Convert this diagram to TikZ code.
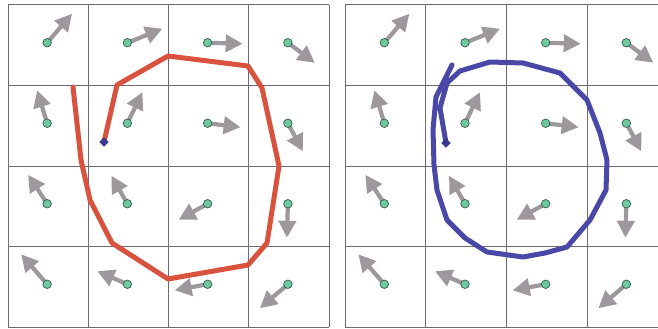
\documentclass[tikz,border=0pt]{standalone}
\usepackage{tikz}
\usetikzlibrary{arrows.meta,shapes.geometric}
\definecolor{gline}{RGB}{112,104,114}
\definecolor{garrow}{RGB}{156,152,155}
\definecolor{gdot}{RGB}{108,201,160}
\definecolor{gdotrim}{RGB}{62,88,78}
\definecolor{cred}{RGB}{216,82,62}
\definecolor{cblue}{RGB}{74,72,166}
\definecolor{cseed}{RGB}{58,58,150}
\tikzset{
  cellgrid/.style={draw=gline, line width=1pt},
  flow/.style   ={-{Triangle[length=17pt,width=17pt]}, draw=garrow, line width=4.2pt},
  probe/.style  ={circle, draw=gdotrim, fill=gdot, line width=0.7pt,
                  inner sep=0pt, minimum size=8.5pt},
  seed/.style   ={diamond, draw=cseed!70!black, fill=cseed, inner sep=0pt,
                  minimum size=9pt},
  trace/.style  ={line width=5pt, line join=round, line cap=round}
}

\begin{document}
\begin{tikzpicture}[x=1pt,y=-1pt]
\useasboundingbox (0,0) rectangle (658,329);
\fill[white] (0,0) rectangle (658,329);
\clip (0,0) rectangle (658,329);

% the two 4x4 grids
\foreach \i in {0,...,4} {
  \draw[cellgrid] (8+80.25*\i,5) -- (8+80.25*\i,327);
  \draw[cellgrid] (8,5+80.5*\i) -- (329,5+80.5*\i);
  \draw[cellgrid] (345+80.67*\i,5) -- (345+80.67*\i,327);
  \draw[cellgrid] (345,5+80.5*\i) -- (670,5+80.5*\i);
}

% vector field, same in both panels
\foreach \p/\ox/\pw in {L/8/80.25, R/345/80.67} {
  \foreach \c/\r/\dx/\dy in {0/0/25/-29, 1/0/35/-14, 2/0/35/1, 3/0/27/20,
                             0/1/-10/-33, 1/1/15/-31, 2/1/33/4, 3/1/15/28,
                             0/2/-19/-29, 1/2/-16/-28, 2/2/-29/16, 3/2/-1/34,
                             0/3/-26/-30, 1/3/-30/-13, 2/3/-33/6, 3/3/-28/24} {
    \coordinate (\p-\c-\r) at (\ox+\pw*\c+\pw/2-1, 4.5+80.5*\r+40.25-2);
    \draw[flow] (\p-\c-\r) -- ++(\dx,\dy);
    \node[probe] (dot-\p-\c-\r) at (\p-\c-\r) {};
  }
}

% left: polygonal trace
\coordinate (startL) at (104,142);
\draw[trace, draw=cred] (startL) -- (117,85) -- (168,56) -- (248,66) -- (262,88)
  -- (279,166) -- (267,243) -- (248,265) -- (168,279) -- (112,243) -- (90,200)
  -- (81,160) -- (73,87);
\node[seed] (seedL) at (startL) {};

% right: spiral trace
\coordinate (startR) at (446,143);
\draw[trace, draw=cblue] (452,65) -- (436,97) -- (433,130) -- (434,165)
  -- (437,190) -- (447,220) -- (465,238) -- (487,252) -- (523,257) -- (545,253)
  -- (567,247) -- (590,220) -- (606,190) -- (607,160) -- (600,133) -- (587,100)
  -- (560,73) -- (523,63) -- (490,62) -- (460,71) -- (447,83) -- (440,108)
  -- (startR);
\node[seed] (seedR) at (startR) {};
\end{tikzpicture}
\end{document}
